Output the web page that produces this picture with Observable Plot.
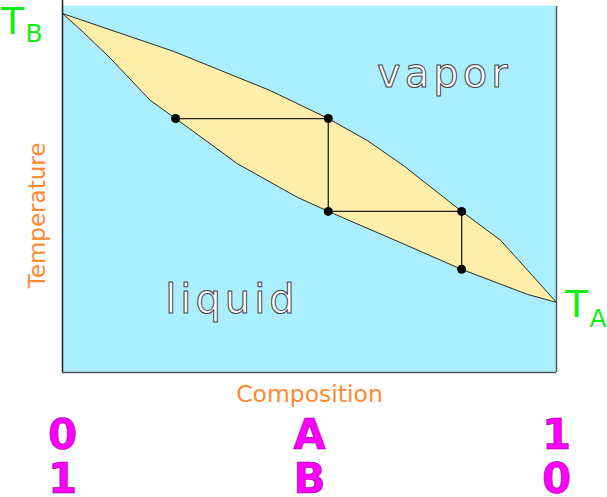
<!DOCTYPE html>
<html>
<head>
<meta charset="utf-8">
<script src="https://cdn.jsdelivr.net/npm/d3@7"></script>
<script src="https://cdn.jsdelivr.net/npm/@observablehq/plot@0.6"></script>
<style>
  html, body { margin: 0; padding: 0; background: #ffffff; }
  #chart svg { display: block; }
</style>
</head>
<body>
<div id="chart"></div>
<script>
// Vapor (dew) curve: composition vs temperature
const vaporX = [0, 0.225, 0.421, 0.538, 0.617, 0.690, 0.808, 0.887, 1];
const vaporT = [97.8, 87.5, 76.8, 69.2, 63.2, 56.4, 43.9, 36.0, 19.1];
// Liquid (bubble) curve
const liquidX = [0, 0.043, 0.097, 0.178, 0.229, 0.354, 0.476, 0.538, 0.684, 0.808, 0.941, 1];
const liquidT = [97.8, 92.6, 85.6, 74.1, 69.2, 56.9, 47.7, 43.9, 35.4, 28.1, 21.3, 19.1];
// Tie-line staircase
const tieX = [0.229, 0.538, 0.538, 0.808, 0.808];
const tieT = [69.2, 69.2, 43.9, 43.9, 28.1];
// Bottom labels
const labelX = [0, 0.5, 1];
const rowA = ["0", "A", "1"];
const rowB = ["1", "B", "0"];

const lens = [
  ...vaporX.map((x, i) => ({x, t: vaporT[i]})),
  ...liquidX.map((x, i) => ({x, t: liquidT[i]})).reverse()
];
const ties = tieX.map((x, i) => ({x, t: tieT[i]}));
const labelsA = labelX.map((x, i) => ({x, s: rowA[i]}));
const labelsB = labelX.map((x, i) => ({x, s: rowB[i]}));

const chart = Plot.plot({
  width: 607,
  height: 497,
  marginLeft: 62,
  marginRight: 51,
  marginTop: 5,
  marginBottom: 125,
  x: {domain: [0, 1], axis: null},
  y: {domain: [0, 100], axis: null},
  style: {background: "#ffffff", overflow: "visible"},
  marks: [
    Plot.frame({fill: "#aaeeff", stroke: null}),
    Plot.line(lens, {x: "x", y: "t", fill: "#ffeeaa", stroke: "#2a2a2a", strokeWidth: 1, curve: "linear"}),
    Plot.line(ties, {x: "x", y: "t", stroke: "#222", strokeWidth: 1.3}),
    Plot.dot(ties, {x: "x", y: "t", r: 4.5, fill: "#000", stroke: null}),
    Plot.ruleX([0], {y1: 0, y2: 101.4, stroke: "#222", strokeWidth: 1.5}),
    Plot.ruleX([1], {y1: 0, y2: 99.7, stroke: "#555", strokeWidth: 1.5}),
    Plot.ruleY([0], {x1: 0, x2: 1, stroke: "#555", strokeWidth: 1.5}),
    Plot.text(["vapor"], {x: 0.773, y: 77.7, text: d => d, lineAnchor: "bottom", fontSize: 40, fontFamily: "DejaVu Sans", fill: "#ffffff", stroke: "#444", strokeWidth: 1, paintOrder: "normal"}),
    Plot.text(["liquid"], {x: 0.343, y: 16.1, text: d => d, lineAnchor: "bottom", fontSize: 40, fontFamily: "DejaVu Sans", fill: "#ffffff", stroke: "#444", strokeWidth: 1, paintOrder: "normal"}),
    Plot.text(["Temperature"], {frameAnchor: "left", textAnchor: "middle", lineAnchor: "middle", dx: -24.5, dy: 26.5, rotate: -90, text: d => d, fontSize: 23, fontFamily: "DejaVu Sans", fill: "#ff8833"}),
    Plot.text(["Composition"], {frameAnchor: "bottom", lineAnchor: "middle", dy: 21.5, text: d => d, fontSize: 23.5, fontFamily: "DejaVu Sans", fill: "#ff8833"}),
    Plot.text(labelsA, {x: "x", frameAnchor: "bottom", lineAnchor: "middle", dy: 63, text: "s", fontSize: 42, fontWeight: "bold", fontFamily: "DejaVu Sans", fill: "#ff00ff", stroke: "#880088", strokeWidth: 0.6, paintOrder: "normal"}),
    Plot.text(labelsB, {x: "x", frameAnchor: "bottom", lineAnchor: "middle", dy: 107.5, text: "s", fontSize: 42, fontWeight: "bold", fontFamily: "DejaVu Sans", fill: "#ff00ff", stroke: "#880088", strokeWidth: 0.6, paintOrder: "normal"}),
    Plot.text(["T"], {frameAnchor: "top-left", dx: -50, dy: 28, lineAnchor: "bottom", textAnchor: "middle", text: d => d, fontSize: 38, fontFamily: "DejaVu Sans", fill: "#11ee11"}),
    Plot.text(["B"], {frameAnchor: "top-left", dx: -37, dy: 36, lineAnchor: "bottom", textAnchor: "start", text: d => d, fontSize: 25, fontFamily: "DejaVu Sans", fill: "#11ee11"}),
    Plot.text(["T"], {x: 1, y: 19.1, dx: 20, dy: 15, lineAnchor: "bottom", textAnchor: "middle", text: d => d, fontSize: 38, fontFamily: "DejaVu Sans", fill: "#11ee11"}),
    Plot.text(["A"], {x: 1, y: 19.1, dx: 33, dy: 25, lineAnchor: "bottom", textAnchor: "start", text: d => d, fontSize: 25, fontFamily: "DejaVu Sans", fill: "#11ee11"})
  ]
});

d3.select(chart).selectAll("text").each(function() {
  const t = this.textContent;
  if (t === "vapor") this.setAttribute("letter-spacing", "4");
  if (t === "liquid") this.setAttribute("letter-spacing", "4");
});

document.getElementById("chart").appendChild(chart);
</script>
</body>
</html>
